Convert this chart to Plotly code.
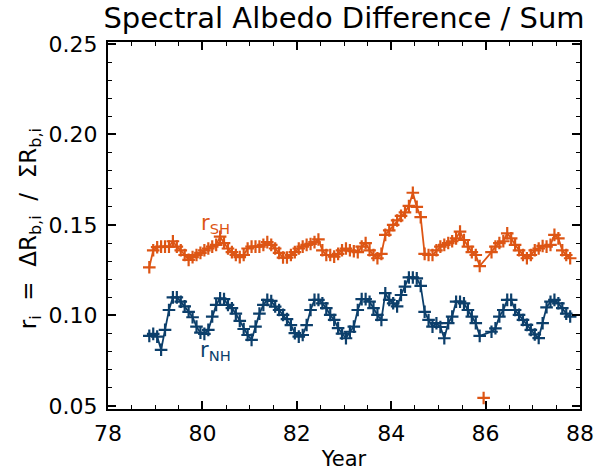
import plotly.graph_objects as go

# Monthly series, Nov 1978 .. Oct 1987 (None = no data)
start_year = 1978
start_month = 11
sh_values = [
    0.1266, 0.136,
    0.1377, 0.138, 0.138, 0.138, 0.141, 0.138, 0.136, 0.1334, 0.1307, 0.1322, 0.1334, 0.1346,
    0.136, 0.137, 0.138, 0.139, 0.1435, 0.140, 0.137, 0.135, 0.1334, 0.1322, 0.1334, 0.137,
    0.138, 0.138, 0.138, 0.139, 0.1405, 0.139, 0.137, 0.1346, 0.132, 0.132, 0.1334, 0.135,
    0.137, 0.138, 0.139, 0.1395, 0.1405, 0.142, 0.136, 0.1334, 0.1334, 0.1325, 0.134, 0.136,
    0.137, 0.136, 0.1355, 0.135, 0.138, 0.140, 0.136, 0.1334, 0.1316, 0.134, 0.1445, 0.147,
    0.150, 0.1525, 0.155, 0.157, 0.1605, 0.1678, 0.160, 0.1543, 0.134, 0.1334, 0.1334, 0.136,
    0.138, 0.139, 0.140, 0.141, 0.1426, 0.1463, 0.1417, 0.138, 0.135, 0.1334, 0.1273, None,
    None, 0.135, 0.138, 0.140, 0.141, 0.1454, 0.1426, 0.139, 0.136, 0.1334, 0.1316, 0.1334,
    0.136, 0.137, 0.1384, 0.138, 0.139, 0.1445, 0.1426, 0.136, 0.1334, 0.1316,
]
nh_values = [
    0.0887, 0.0898,
    0.0883, 0.081, 0.092, 0.103, 0.110, 0.110, 0.1076, 0.105, 0.102, 0.099, 0.0938, 0.0905,
    0.0898, 0.092, 0.0994, 0.1058, 0.1095, 0.109, 0.1058, 0.104, 0.101, 0.097, 0.0925, 0.0892,
    0.0865, 0.0938, 0.101, 0.1058, 0.1086, 0.108, 0.1049, 0.103, 0.1003, 0.098, 0.0947, 0.0902,
    0.0883, 0.0892, 0.0947, 0.103, 0.1086, 0.1086, 0.1067, 0.104, 0.1003, 0.0975, 0.093, 0.090,
    0.0874, 0.091, 0.0938, 0.103, 0.109, 0.109, 0.1076, 0.104, 0.1003, 0.0975, 0.1123, 0.1086,
    0.1067, 0.105, 0.1113, 0.1159, 0.121, 0.121, 0.1205, 0.1163, 0.102, 0.0975, 0.0938, 0.0957,
    0.0936, 0.0874, 0.0957, 0.0994, 0.1076, 0.1076, 0.1067, 0.103, 0.0994, 0.0957, 0.0887, None,
    None, 0.091, 0.0929, 0.0994, 0.103, 0.1086, 0.1086, 0.103, 0.1003, 0.0975, 0.0948, 0.092,
    0.0895, 0.0875, 0.0957, 0.1045, 0.1076, 0.1086, 0.1067, 0.104, 0.101, 0.0994,
]
# isolated SH value (Dec 1985), not joined to the line
outlier_year = [85.958]
outlier_value = [0.0544]

# decimal year (two digits, mid-month)
years = []
y, m = start_year, start_month
for _ in sh_values:
    years.append((y - 1900) + (m - 0.5) / 12.0)
    m += 1
    if m > 12:
        m = 1
        y += 1

ORANGE = "#DD5514"
BLUE = "#0C3F6B"
FONT = "DejaVu Sans"

fig = go.Figure()
for vals, col in [(sh_values, ORANGE), (nh_values, BLUE)]:
    fig.add_trace(go.Scatter(
        x=years, y=vals, mode="lines+markers", connectgaps=True,
        line=dict(color=col, width=1.8),
        marker=dict(symbol="cross-thin", size=9, line=dict(color=col, width=2.2)),
        showlegend=False,
    ))
fig.add_trace(go.Scatter(
    x=outlier_year, y=outlier_value, mode="markers",
    marker=dict(symbol="cross-thin", size=9, line=dict(color=ORANGE, width=2.2)),
    showlegend=False,
))

fig.add_annotation(x=80.27, y=0.1506, text="r<sub>SH</sub>", showarrow=False,
                   font=dict(family=FONT, size=21, color=ORANGE))
fig.add_annotation(x=80.27, y=0.0806, text="r<sub>NH</sub>", showarrow=False,
                   font=dict(family=FONT, size=21, color=BLUE))

# y-axis title placed as a rotated annotation left of the tick labels
fig.add_annotation(
    xref="paper", yref="paper", x=-0.165, y=0.49, xanchor="center", yanchor="middle",
    textangle=-90, showarrow=False,
    text="r<sub>i</sub>\u00a0\u00a0=\u00a0\u00a0ΔR<sub>b,i</sub>\u00a0\u00a0/\u00a0\u00a0ΣR<sub>b,i</sub>",
    font=dict(family=FONT, size=23, color="black"),
)

axis_common = dict(
    showline=True, linecolor="black", linewidth=2, mirror="ticks",
    ticks="inside", ticklen=8, tickwidth=1.5, tickcolor="black",
    showgrid=False, zeroline=False, automargin=False,
    tickfont=dict(family=FONT, size=22, color="black"),
)
fig.update_xaxes(range=[78, 88], dtick=2, tick0=78, ticklabelstandoff=4,
                 minor=dict(dtick=0.5, ticks="inside", ticklen=4, tickcolor="black", tickwidth=1.2),
                 title=dict(text="Year", font=dict(family=FONT, size=21, color="black"), standoff=22),
                 **axis_common)
fig.update_yaxes(range=[0.0483, 0.2511], dtick=0.05, tick0=0.05, tickformat=".2f",
                 ticklabelstandoff=4,
                 minor=dict(dtick=0.01, ticks="inside", ticklen=4, tickcolor="black", tickwidth=1.2),
                 **axis_common)

fig.update_layout(
    width=597, height=471,
    margin=dict(l=108, r=17, t=42, b=62),
    paper_bgcolor="white", plot_bgcolor="white",
    title=dict(text="Spectral Albedo Difference / Sum", x=0.5, xref="paper",
               y=1 - 18 / 471, yref="container", yanchor="middle",
               font=dict(family=FONT, size=29, color="black")),
)
fig.write_html("out.html")
